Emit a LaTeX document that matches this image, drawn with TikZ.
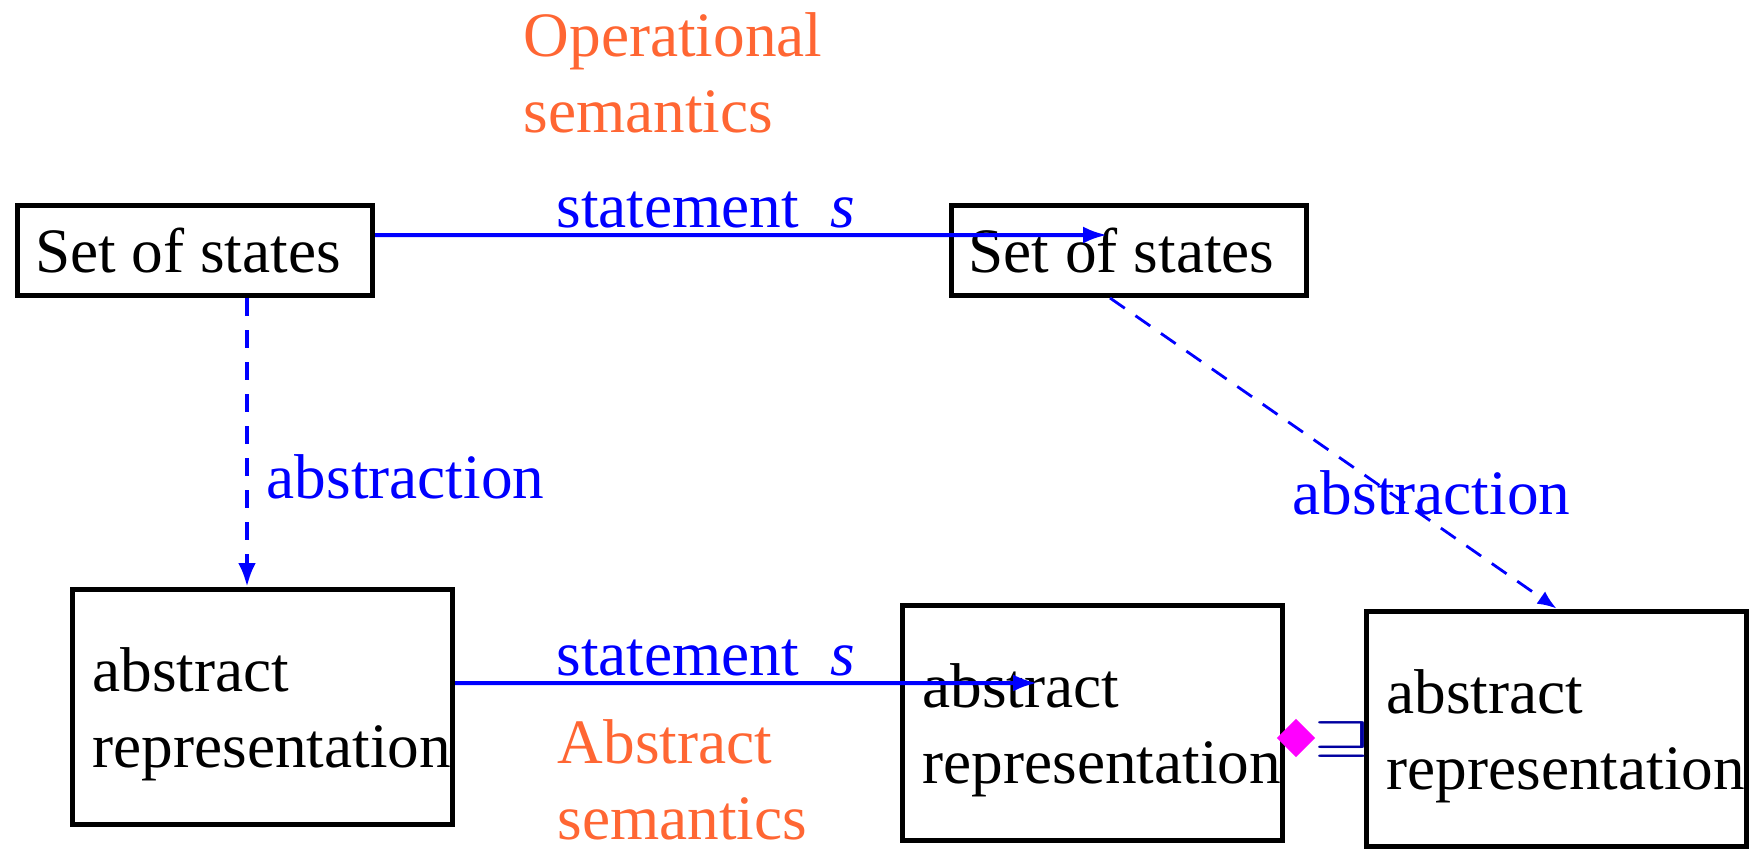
\documentclass[tikz,border=0pt]{standalone}
\usepackage{fontspec}
\setmainfont{Liberation Serif}
\usetikzlibrary{arrows.meta}
\usetikzlibrary{shapes.geometric}
\definecolor{semorange}{RGB}{255,102,51}
\definecolor{ordblue}{RGB}{0,0,160}
\definecolor{meetpink}{RGB}{255,0,255}
\hfuzz=30pt
\tikzset{
  statebox/.style={draw,line width=0.5mm,minimum width=35.5mm,minimum height=9mm,inner sep=0,
    execute at end node={\hspace{1.4mm}}},
  absbox/.style={draw,line width=0.5mm,minimum width=38mm,minimum height=23.5mm,text width=34mm,inner xsep=2mm,align=left,
    execute at begin node={\rule{0pt}{5.9mm}}},
  semarrow/.style={blue,line width=0.4mm,-{Latex[length=2.4mm,width=1.7mm]}},
  absarrow/.style={blue,line width=0.45mm,dash pattern=on 1.8mm off 1.4mm,-{Latex[length=2.4mm,width=1.8mm]}},
  thinabs/.style={blue,line width=0.28mm,dash pattern=on 1.8mm off 1.3mm,-{Latex[length=1.9mm,width=1.5mm]}},
  lbl/.style={blue,anchor=base west,inner sep=0},
  semlbl/.style={semorange,anchor=north west,inner sep=0,align=left}
}
\begin{document}
\begin{tikzpicture}[x=0.1mm,y=-0.1mm,font=\fontsize{18}{21.6}\selectfont]
  \useasboundingbox (0,0) rectangle (1754,851);
  % boxes
  \node[statebox] (states1) at (195,250.5) {Set of states};
  \node[statebox] (states2) at (1128.5,250.5) {Set of states};
  \node[absbox] (abs1) at (262.5,707) {abstract\\representation};
  \node[absbox] (abs2) at (1092.5,723) {abstract\\representation};
  \node[absbox] (abs3) at (1556.5,728.5) {abstract\\representation};
  % arrow ends inside the right boxes
  \coordinate (opend) at (1107,235);
  \coordinate (absend) at (1037,683);
  % semantics
  \draw[semarrow] ([yshift=1.55mm]states1.east) -- (opend);
  \draw[semarrow] ([yshift=2.4mm]abs1.east) -- (absend);
  \node[lbl] (stmt1) at (556,227) {statement~~\textit{s}};
  \node[lbl] (stmt2) at (556,675) {statement~~\textit{s}};
  \node[semlbl] (opsem) at (523,12) {Operational\\semantics};
  \node[semlbl] (abssem) at (557,719) {Abstract\\semantics};
  % abstraction
  \draw[absarrow] ([xshift=5.2mm]states1.south) -- ([xshift=5.2mm]states1.south |- abs1.north);
  \draw[thinabs] ([xshift=-1.85mm]states2.south) -- (abs3.north);
  \node[lbl] (absl1) at (266,498) {abstraction};
  \node[lbl] (absl2) at (1292,514) {abstraction};
  % ordering between results
  \node[diamond,fill=meetpink,minimum size=3.9mm,inner sep=0] (meet) at (1296,738) {};
  \node[ordblue,inner sep=0] (order) at (1343,739) {\scalebox{1.5}[0.95]{\fontsize{12}{14}\selectfont\boldmath$\sqsupseteq$}};
\end{tikzpicture}
\end{document}
